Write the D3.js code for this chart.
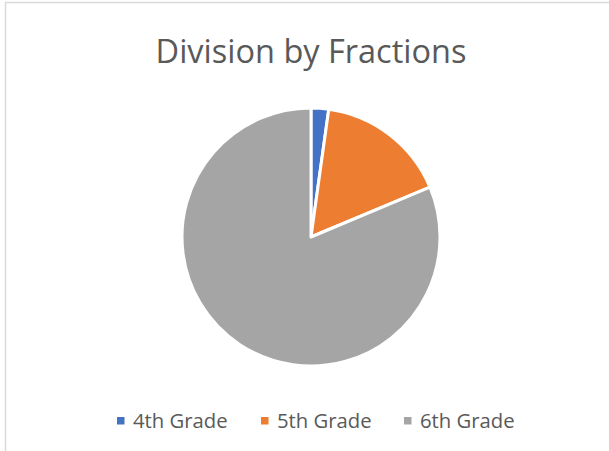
<!DOCTYPE html>
<head>
<meta charset="utf-8">
<title>Division by Fractions</title>
<script src="https://cdn.jsdelivr.net/npm/d3@7"></script>
<style>
    body { margin: 0; background: #fff; }
    text { font-family: "Open Sans", "Noto Sans", sans-serif; fill: #595959; }
</style>
</head>
<body>
<script>
    // data
    var grades = ["4th Grade", "5th Grade", "6th Grade"];
    var counts = [2, 15, 74];
    var colors = ["#4472C4", "#ED7D31", "#A5A5A5"];

    var width = 609, height = 451;

    var svg = d3.select("body")
                .append("svg")
                .attr("width", width)
                .attr("height", height);

    // chart frame
    svg.append("rect")
        .attr("x", 5.5)
        .attr("y", 2.5)
        .attr("width", width)
        .attr("height", height)
        .attr("fill", "none")
        .attr("stroke", "#d9d9d9")
        .attr("stroke-width", 1.5);

    // title
    svg.append("text")
        .attr("x", 311)
        .attr("y", 63)
        .attr("text-anchor", "middle")
        .style("font-size", "32.5px")
        .text("Division by Fractions");

    var z = d3.scaleOrdinal()
        .domain(grades)
        .range(colors);

    var pie = d3.pie()
        .sort(null)
        .value(function(d, i) { return counts[i]; });

    var arc = d3.arc()
        .innerRadius(0)
        .outerRadius(129);

    var g = svg.append("g")
        .attr("transform", "translate(311,237)");

    g.selectAll("path")
        .data(pie(grades))
        .enter()
        .append("path")
            .attr("d", arc)
            .attr("fill", function(d) { return z(d.data); })
            .attr("stroke", "#fff")
            .attr("stroke-width", 3)
            .attr("stroke-linejoin", "round");

    // legend
    var legendX = [117, 261, 404];

    var legend = svg.selectAll("g.legend")
        .data(grades)
        .enter()
        .append("g")
            .attr("class", "legend")
            .attr("transform", function(d, i) {
                return "translate(" + legendX[i] + ",417)";
            });

    legend.append("rect")
        .attr("width", 7.5)
        .attr("height", 7.5)
        .attr("fill", function(d) { return z(d); });

    legend.append("text")
        .attr("x", 16)
        .attr("y", 10.5)
        .style("font-size", "20.3px")
        .text(function(d) { return d; });
</script>
</body>
</html>
